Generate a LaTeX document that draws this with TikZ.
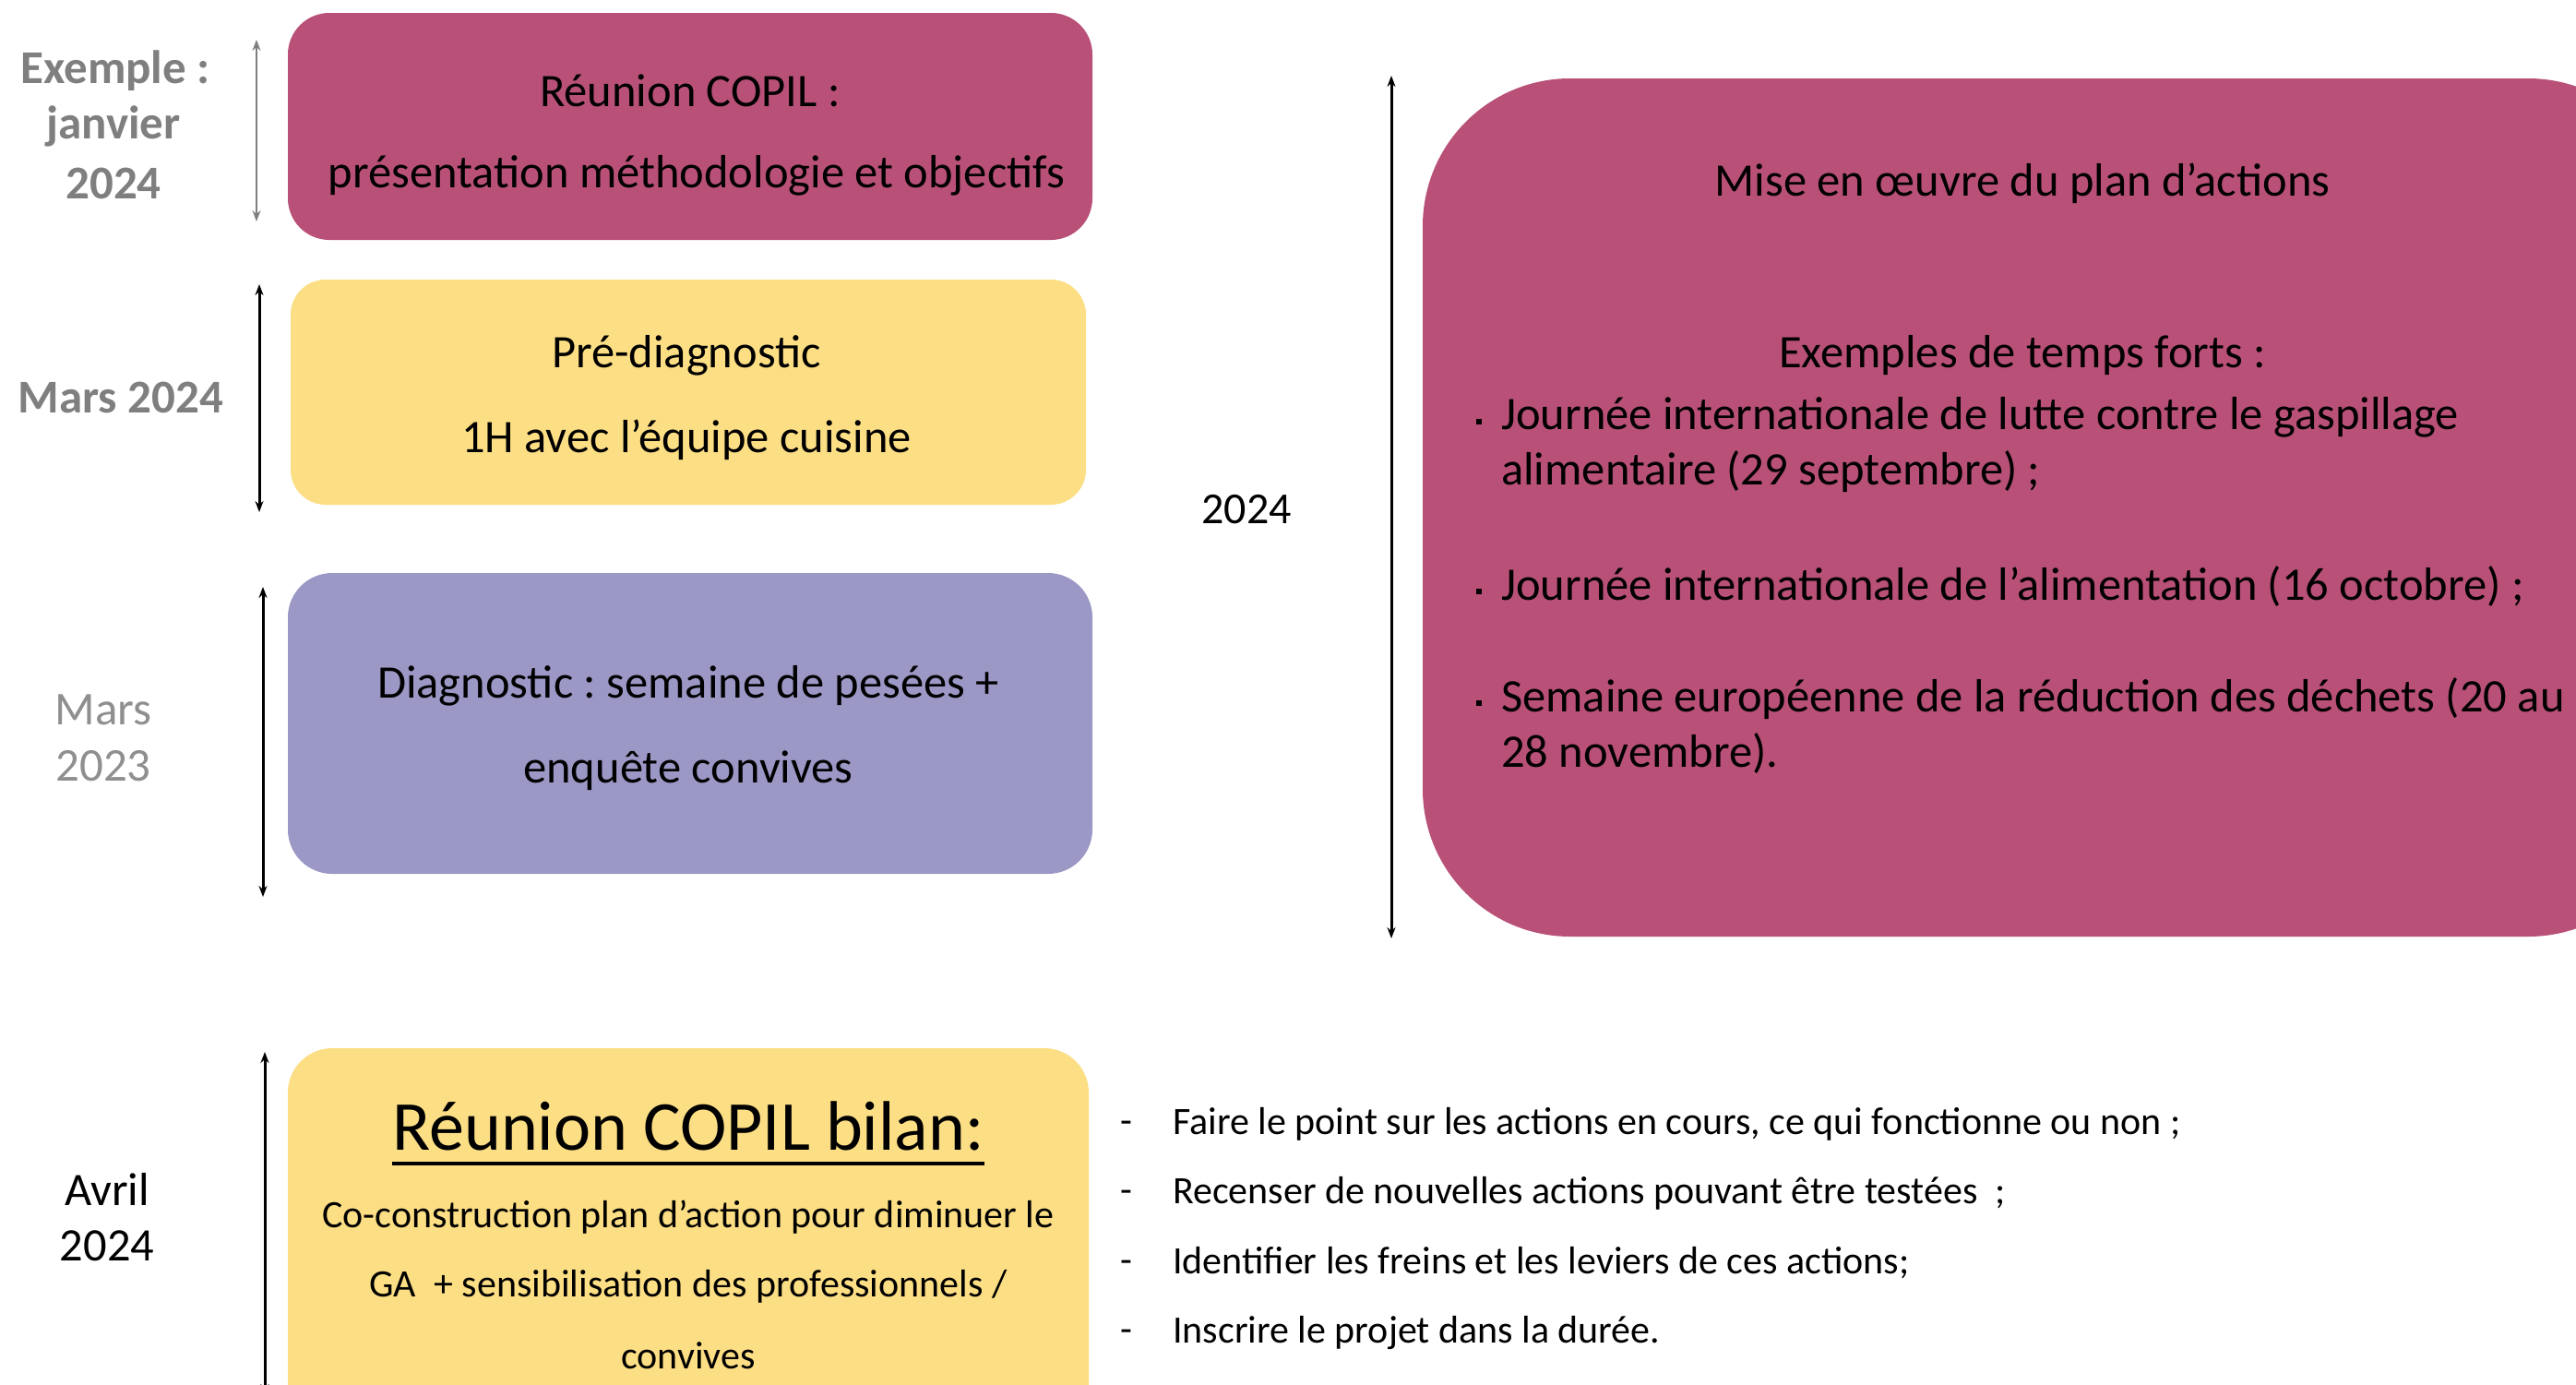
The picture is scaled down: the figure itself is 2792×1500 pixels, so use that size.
\documentclass[tikz,border=0pt]{standalone}
\usepackage{fontspec}
\setmainfont{Carlito}
\usetikzlibrary{arrows.meta,calc}
\definecolor{copil}{HTML}{B85077}
\definecolor{jaune}{HTML}{FCDE84}
\definecolor{lavande}{HTML}{9B98C6}
\definecolor{grislab}{HTML}{7F7F7F}
\definecolor{grisclair}{HTML}{8F8F8F}
\frenchspacing
\begin{document}
\begin{tikzpicture}[x=1pt,y=-1pt,
  box/.style={rounded corners=#1, inner sep=0pt, outer sep=0pt},
  txt/.style={inner sep=0pt, font=\fontsize{50.5}{60}\selectfont},
  small/.style={inner sep=0pt, font=\fontsize{42}{50}\selectfont},
  lbold/.style={inner sep=0pt, text=grislab, font=\fontsize{51}{60}\selectfont\bfseries},
  llight/.style={inner sep=0pt, text=grisclair, font=\fontsize{51}{60}\selectfont},
  timeline/.style={line width=3pt, {Stealth[length=12pt,width=9pt]}-{Stealth[length=12pt,width=9pt]}},
  bul/.style={fill=black, minimum size=6pt, inner sep=0pt}
]
\useasboundingbox (0,0) rectangle (2792,1500);
\clip (0,0) rectangle (2792,1500);
\fill[white] (0,0) rectangle (2792,1500);

% boxes
\node[box=45pt, fill=copil, minimum width=872pt, minimum height=246pt] (b1) at (748,137) {};
\node[box=38pt, fill=jaune, minimum width=862pt, minimum height=244pt] (b2) at (746,425) {};
\node[box=48pt, fill=lavande, minimum width=872pt, minimum height=326pt] (b3) at (748,784) {};
\node[box=48pt, fill=jaune, minimum width=868pt, minimum height=424pt] (b4) at (746,1348) {};
\node[box=160pt, fill=copil, minimum width=1358pt, minimum height=930pt] (big) at (2221,550) {};

% timeline arrows
\coordinate (a1t) at (278,43);  \coordinate (a1b) at (278,240);
\coordinate (a2t) at (281,308); \coordinate (a2b) at (281,555);
\coordinate (a3t) at (285,636); \coordinate (a3b) at (285,972);
\coordinate (a4t) at (287,1140); \coordinate (a4b) at (287,1512);
\coordinate (a5t) at (1508,82); \coordinate (a5b) at (1508,1017);
\draw[timeline, line width=1.6pt, draw=grislab] (a1t) -- (a1b);
\draw[timeline] (a2t) -- (a2b);
\draw[timeline] (a3t) -- (a3b);
\draw[timeline] (a4t) -- (a4b);
\draw[timeline] (a5t) -- (a5b);

% left labels
\node[lbold] (l1a) at (125,77) {Exemple :};
\node[lbold] (l1b) at (123,137) {janvier};
\node[lbold] (l1c) at (123,199) {2024};
\node[lbold] (l2) at (131,431) {Mars 2024};
\node[llight] (l3a) at (112,769) {Mars};
\node[llight] (l3b) at (112,830) {2023};
\node[txt] (l4a) at (116,1289) {Avril};
\node[txt] (l4b) at (116,1350) {2024};
\node[txt, font=\fontsize{48}{56}\selectfont] (l5) at (1351,552) {2024};

% box texts
\node[txt] (t1a) at (748,98) {Réunion COPIL :};
\node[txt] (t1b) at (755,190) {présentation méthodologie et objectifs};
\node[txt] (t2a) at (744,385) {Pré-diagnostic};
\node[txt] (t2b) at (744,477) {1H avec l’équipe cuisine};
\node[txt] (t3a) at (746,743) {Diagnostic : semaine de pesées +};
\node[txt] (t3b) at (746,835) {enquête convives};
\node[inner sep=0pt, font=\fontsize{76}{90}\selectfont] (t4h) at (746,1220) {Réunion COPIL bilan:};
\draw[line width=4pt] ($(t4h.base west)+(0,15)$) -- ($(t4h.base east)+(0,15)$);
\node[small] (t4a) at (746,1319) {Co-construction plan d’action pour diminuer le};
\node[small] (t4b) at (746,1394) {GA\ \ + sensibilisation des professionnels /};
\node[small] (t4c) at (746,1469) {convives};

% big box texts
\node[txt] (m1) at (2192,199) {Mise en œuvre du plan d’actions};
\node[txt] (m2) at (2192,385) {Exemples de temps forts :};
\node[bul] (bu1) at (1603,457) {};
\node[txt, anchor=west] (m3a) at (1627,452) {Journée internationale de lutte contre le gaspillage};
\node[txt, anchor=west] (m3b) at (1627,511) {alimentaire (29 septembre) ;};
\node[bul] (bu2) at (1603,641) {};
\node[txt, anchor=west] (m4) at (1627,636) {Journée internationale de l’alimentation (16 octobre) ;};
\node[bul] (bu3) at (1603,762) {};
\node[txt, anchor=west] (m5a) at (1627,757) {Semaine européenne de la réduction des déchets (20 au};
\node[txt, anchor=west] (m5b) at (1627,817) {28 novembre).};

% bottom-right list
\node[small, anchor=west] (d1) at (1214,1222) {-};
\node[small, anchor=west] (r1) at (1271,1218) {Faire le point sur les actions en cours, ce qui fonctionne ou non ;};
\node[small, anchor=west] (d2) at (1214,1297) {-};
\node[small, anchor=west] (r2) at (1271,1293) {Recenser de nouvelles actions pouvant être testées\ \ ;};
\node[small, anchor=west] (d3) at (1214,1373) {-};
\node[small, anchor=west] (r3) at (1271,1369) {Identifier les freins et les leviers de ces actions;};
\node[small, anchor=west] (d4) at (1214,1448) {-};
\node[small, anchor=west] (r4) at (1271,1444) {Inscrire le projet dans la durée.};
\end{tikzpicture}
\end{document}
